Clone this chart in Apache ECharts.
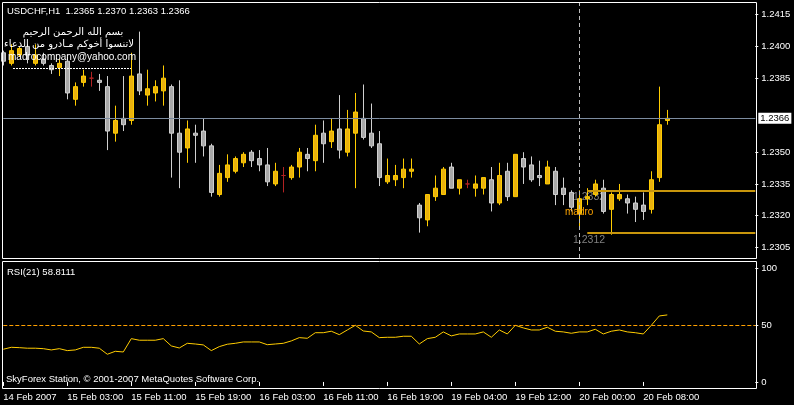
<!DOCTYPE html>
<html><head><meta charset="utf-8">
<script src="https://cdn.jsdelivr.net/npm/echarts@6/dist/echarts.min.js"></script>
<style>html,body{margin:0;padding:0;background:#000;overflow:hidden}#c{width:794px;height:405px}</style>
</head><body><div id="c"></div><script>
// ---- data ----
const sessions = [['14 Feb',19,23],['15 Feb',0,23],['16 Feb',0,22],['19 Feb',0,19],['20 Feb',0,11]];
const categories = [];
sessions.forEach(([d,a,b]) => { for (let h=a; h<=b; h++) categories.push(d + ' ' + String(h).padStart(2,'0') + ':00'); });
const firstTickLabel = '14 Feb 2007';

const open = [1.2397,1.2392,1.2396,1.2400,1.2392,1.2394,1.2391,1.2390,1.2393,1.2375,
1.2383,1.2385,1.2384,1.2381,1.2359,1.2366,1.2365,1.2387,1.2377,1.2378,
1.2379,1.2381,1.2359,1.2352,1.2359,1.2360,1.2353,1.2330,1.2338,1.2341,
1.2345,1.2350,1.2347,1.2344,1.2335,1.2339,1.2338,1.2343,1.2349,1.2346,
1.2359,1.2355,1.2361,1.2350,1.2359,1.2366,1.2359,1.2354,1.2336,1.2337,
1.2338,1.2341,1.2325,1.2318,1.2329,1.2330,1.2343,1.2333,1.2335,1.2333,
1.2333,1.2337,1.2326,1.2341,1.2329,1.2347,1.2344,1.2339,1.2335,1.2341,
1.2333,1.2331,1.2321,1.2328,1.2330,1.2333,1.2323,1.2328,1.2328,1.2326,
1.2325,1.2323,1.2338,1.2365];
const close = [1.2393,1.2398,1.2399,1.2396,1.2396,1.2392,1.2389,1.2392,1.2378,1.2381,
1.2386,1.2385,1.2383,1.2360,1.2365,1.2363,1.2386,1.2379,1.2380,1.2381,
1.2385,1.2359,1.2350,1.2361,1.2358,1.2353,1.2331,1.2340,1.2344,1.2347,
1.2349,1.2346,1.2344,1.2336,1.2341,1.2339,1.2343,1.2350,1.2347,1.2358,
1.2354,1.2360,1.2351,1.2361,1.2369,1.2357,1.2353,1.2338,1.2339,1.2339,
1.2342,1.2342,1.2319,1.2330,1.2333,1.2342,1.2333,1.2337,1.2335,1.2335,
1.2338,1.2326,1.2339,1.2329,1.2349,1.2343,1.2337,1.2338,1.2343,1.2330,
1.2330,1.2324,1.2328,1.2329,1.2335,1.2322,1.2330,1.2330,1.2326,1.2323,
1.2322,1.2337,1.2363,1.2366];
const high = [1.2398,1.2401,1.2400,1.2401,1.2401,1.2397,1.2392,1.2394,1.2395,1.2383,
1.2389,1.2388,1.2387,1.2386,1.2372,1.2386,1.2397,1.2407,1.2389,1.2384,
1.2391,1.2382,1.2384,1.2365,1.2363,1.2366,1.2354,1.2344,1.2349,1.2348,
1.2350,1.2351,1.2351,1.2352,1.2345,1.2343,1.2344,1.2352,1.2352,1.2363,
1.2365,1.2366,1.2377,1.2370,1.2378,1.2382,1.2373,1.2360,1.2347,1.2344,
1.2347,1.2347,1.2326,1.2330,1.2339,1.2343,1.2345,1.2337,1.2337,1.2339,
1.2338,1.2343,1.2345,1.2345,1.2349,1.2350,1.2348,1.2346,1.2346,1.2343,
1.2338,1.2332,1.2332,1.2333,1.2337,1.2337,1.2331,1.2335,1.2330,1.2329,
1.2331,1.2341,1.2381,1.2370];
const low = [1.2391,1.2391,1.2395,1.2392,1.2391,1.2391,1.2387,1.2386,1.2375,1.2372,
1.2381,1.2381,1.2379,1.2351,1.2355,1.2360,1.2363,1.2377,1.2372,1.2374,
1.2372,1.2338,1.2333,1.2345,1.2345,1.2348,1.2329,1.2329,1.2336,1.2340,
1.2343,1.2343,1.2341,1.2334,1.2334,1.2331,1.2337,1.2338,1.2341,1.2341,
1.2345,1.2352,1.2347,1.2348,1.2333,1.2356,1.2352,1.2334,1.2335,1.2334,
1.2333,1.2338,1.2312,1.2315,1.2327,1.2330,1.2333,1.2330,1.2333,1.2329,
1.2330,1.2322,1.2325,1.2327,1.2329,1.2335,1.2336,1.2334,1.2335,1.2325,
1.2325,1.2322,1.2315,1.2325,1.2329,1.2321,1.2311,1.2327,1.2321,1.2317,
1.2318,1.2321,1.2336,1.2363];
const rsi = [28.7,30.4,30.1,29.6,29.6,29.2,28.1,29.2,27.5,28.1,
30.4,30.4,29.6,24.3,26.9,26.3,38.0,36.6,36.6,36.6,
38.0,31.6,29.8,33.9,33.3,32.5,27.5,31.0,33.1,33.9,
35.1,35.1,35.1,32.7,33.3,33.9,36.0,38.9,38.3,43.2,
43.2,44.5,41.5,45.6,49.7,44.7,43.9,38.9,39.2,39.2,
40.1,40.1,33.3,38.0,39.2,43.9,40.4,42.1,42.1,42.1,
43.9,39.2,45.6,42.1,49.7,47.4,45.6,45.6,48.0,44.5,
43.9,42.7,43.9,43.9,46.2,42.1,44.5,45.6,43.9,43.2,
42.1,49.7,57.9,58.8];
const priceTicks = [1.2305,1.2320,1.2335,1.2350,1.2385,1.2400,1.2415];
const rsiTicks = [0,50,100];
const currentPrice = 1.2366;
const cursorBar = 72;
const levelStartBar = 73;
const levels = [1.2332, 1.2312];
const rsiLevel = 50;
const titleText = 'USDCHF,H1  1.2365 1.2370 1.2363 1.2366';
const rsiText = 'RSI(21) 58.8111';
const copyText = 'SkyForex Station, \u00A9 2001-2007 MetaQuotes Software Corp.';
const noteLines = ['بسم الله الرحمن الرحيم', 'لاتنسوا أخوكم مـادرو من الدعاء', 'madrocompany@yahoo.com'];

// ---- chart ----
const FONT = '"Liberation Sans", Arial, sans-serif';
const PAD = 11;
const axisCats = categories.concat(Array.from({length: PAD}, (_, i) => 'pad' + i));
const lastCat = axisCats[axisCats.length - 1];
const candleData = categories.map((_, i) => [open[i], close[i], low[i], high[i]]);
const showTick = (i) => i % 8 === 0 && i < categories.length;

const chart = echarts.init(document.getElementById('c'), null, {renderer: 'canvas'});
const option = {
  backgroundColor: '#000',
  animation: false,
  grid: [
    {left: 3.3, width: 752, top: 2, height: 256},
    {left: 3.3, width: 752, top: 261, height: 127}
  ],
  xAxis: [
    {type: 'category', gridIndex: 0, data: axisCats, boundaryGap: false,
     axisLine: {show: false}, axisTick: {show: false}, axisLabel: {show: false}, splitLine: {show: false}},
    {type: 'category', gridIndex: 1, data: axisCats, boundaryGap: false,
     axisLine: {show: false},
     axisTick: {show: true, interval: showTick, length: 4, lineStyle: {color: '#fff', width: 1}},
     axisLabel: {show: true, interval: showTick, align: 'left', margin: 4, color: '#fff',
       fontFamily: FONT, fontSize: 9.5,
       formatter: (v, i) => i === 0 ? firstTickLabel : v},
     splitLine: {show: false}}
  ],
  yAxis: [
    {type: 'value', gridIndex: 0, position: 'right', min: 1.2300, max: 1.2421, scale: true,
     splitLine: {show: false}, axisLine: {show: false},
     axisTick: {show: true, length: 3, customValues: priceTicks, lineStyle: {color: '#fff'}},
     axisLabel: {show: true, customValues: priceTicks, formatter: v => v.toFixed(4), color: '#fff',
       fontFamily: FONT, fontSize: 9.5, margin: 6}},
    {type: 'value', gridIndex: 1, position: 'right', min: -5.3, max: 106.1,
     splitLine: {show: false}, axisLine: {show: false},
     axisTick: {show: true, length: 3, customValues: rsiTicks, lineStyle: {color: '#fff'}},
     axisLabel: {show: true, customValues: rsiTicks, formatter: v => String(v), color: '#fff',
       fontFamily: FONT, fontSize: 9.5, margin: 6}}
  ],
  series: [
    {type: 'candlestick', xAxisIndex: 0, yAxisIndex: 0, data: candleData, barWidth: 4, clip: false,
     itemStyle: {color: '#E9B10E', color0: '#A8A8A8', borderColor: '#FFCC00', borderColor0: '#D0D0D0',
       borderColorDoji: '#B22222', borderWidth: 1},
     markLine: {symbol: ['none', 'none'], silent: true, animation: false, precision: 4, label: {show: false},
       data: [
         {yAxis: currentPrice, lineStyle: {color: '#7D8CA0', width: 1, type: 'solid'},
          label: {show: true, position: 'end', formatter: currentPrice.toFixed(4), backgroundColor: '#fff',
            color: '#000', padding: [1, 2, 0, 2], fontFamily: FONT, fontSize: 9.5, distance: 3}},
         {xAxis: categories[cursorBar], lineStyle: {color: '#BDBDBD', width: 1, type: [4, 3]}},
         ...levels.map(v => [
           {coord: [categories[levelStartBar], v], lineStyle: {color: '#C8960C', width: 2, type: 'solid'}},
           {coord: [lastCat, v]}
         ])
       ]}},
    {type: 'line', xAxisIndex: 1, yAxisIndex: 1, data: rsi, symbol: 'none', clip: false,
     lineStyle: {color: '#FFCC00', width: 1},
     markLine: {symbol: ['none', 'none'], silent: true, animation: false, precision: 4, label: {show: false},
       data: [{yAxis: rsiLevel, lineStyle: {color: '#FFA000', width: 1, type: [4, 2]}}]}}
  ],
  graphic: [
    {type: 'rect', z: 50, silent: true, shape: {x: 2.5, y: 2.5, width: 754, height: 256},
     style: {fill: null, stroke: '#fff', lineWidth: 1}},
    {type: 'rect', z: 50, silent: true, shape: {x: 2.5, y: 261.5, width: 754, height: 127},
     style: {fill: null, stroke: '#fff', lineWidth: 1}},
    {type: 'text', z: 60, x: 7, y: 11, style: {text: titleText, fill: '#fff', font: '9.5px ' + FONT, verticalAlign: 'middle'}},
    {type: 'text', z: 60, x: 73, y: 32.5, style: {text: noteLines[0], fill: '#fff', font: '10px "DejaVu Sans"', align: 'center', verticalAlign: 'middle'}},
    {type: 'text', z: 60, x: 69, y: 44, style: {text: noteLines[1], fill: '#fff', font: '10px "DejaVu Sans"', align: 'center', verticalAlign: 'middle'}},
    {type: 'text', z: 60, x: 72, y: 57, style: {text: noteLines[2], fill: '#fff', font: '10px ' + FONT, align: 'center', verticalAlign: 'middle'}},
    {type: 'line', z: 60, silent: true, shape: {x1: 13, y1: 68.5, x2: 131, y2: 68.5}, style: {stroke: '#fff', lineWidth: 1, lineDash: [2, 1]}},
    {type: 'text', z: 1, x: 573, y: 197, style: {text: levels[0].toFixed(4), fill: '#808080', font: '10.5px ' + FONT, verticalAlign: 'middle'}},
    {type: 'text', z: 1, x: 573, y: 240, style: {text: levels[1].toFixed(4), fill: '#808080', font: '10.5px ' + FONT, verticalAlign: 'middle'}},
    {type: 'text', z: 60, x: 565, y: 212, style: {text: 'madro', fill: '#FFA500', font: '10px ' + FONT, verticalAlign: 'middle'}},
    {type: 'text', z: 60, x: 7, y: 272, style: {text: rsiText, fill: '#fff', font: '9.5px ' + FONT, verticalAlign: 'middle'}},
    {type: 'text', z: 60, x: 6, y: 379, style: {text: copyText, fill: '#fff', font: '9.5px ' + FONT, verticalAlign: 'middle'}}
  ]
};
chart.setOption(option);
</script></body></html>
